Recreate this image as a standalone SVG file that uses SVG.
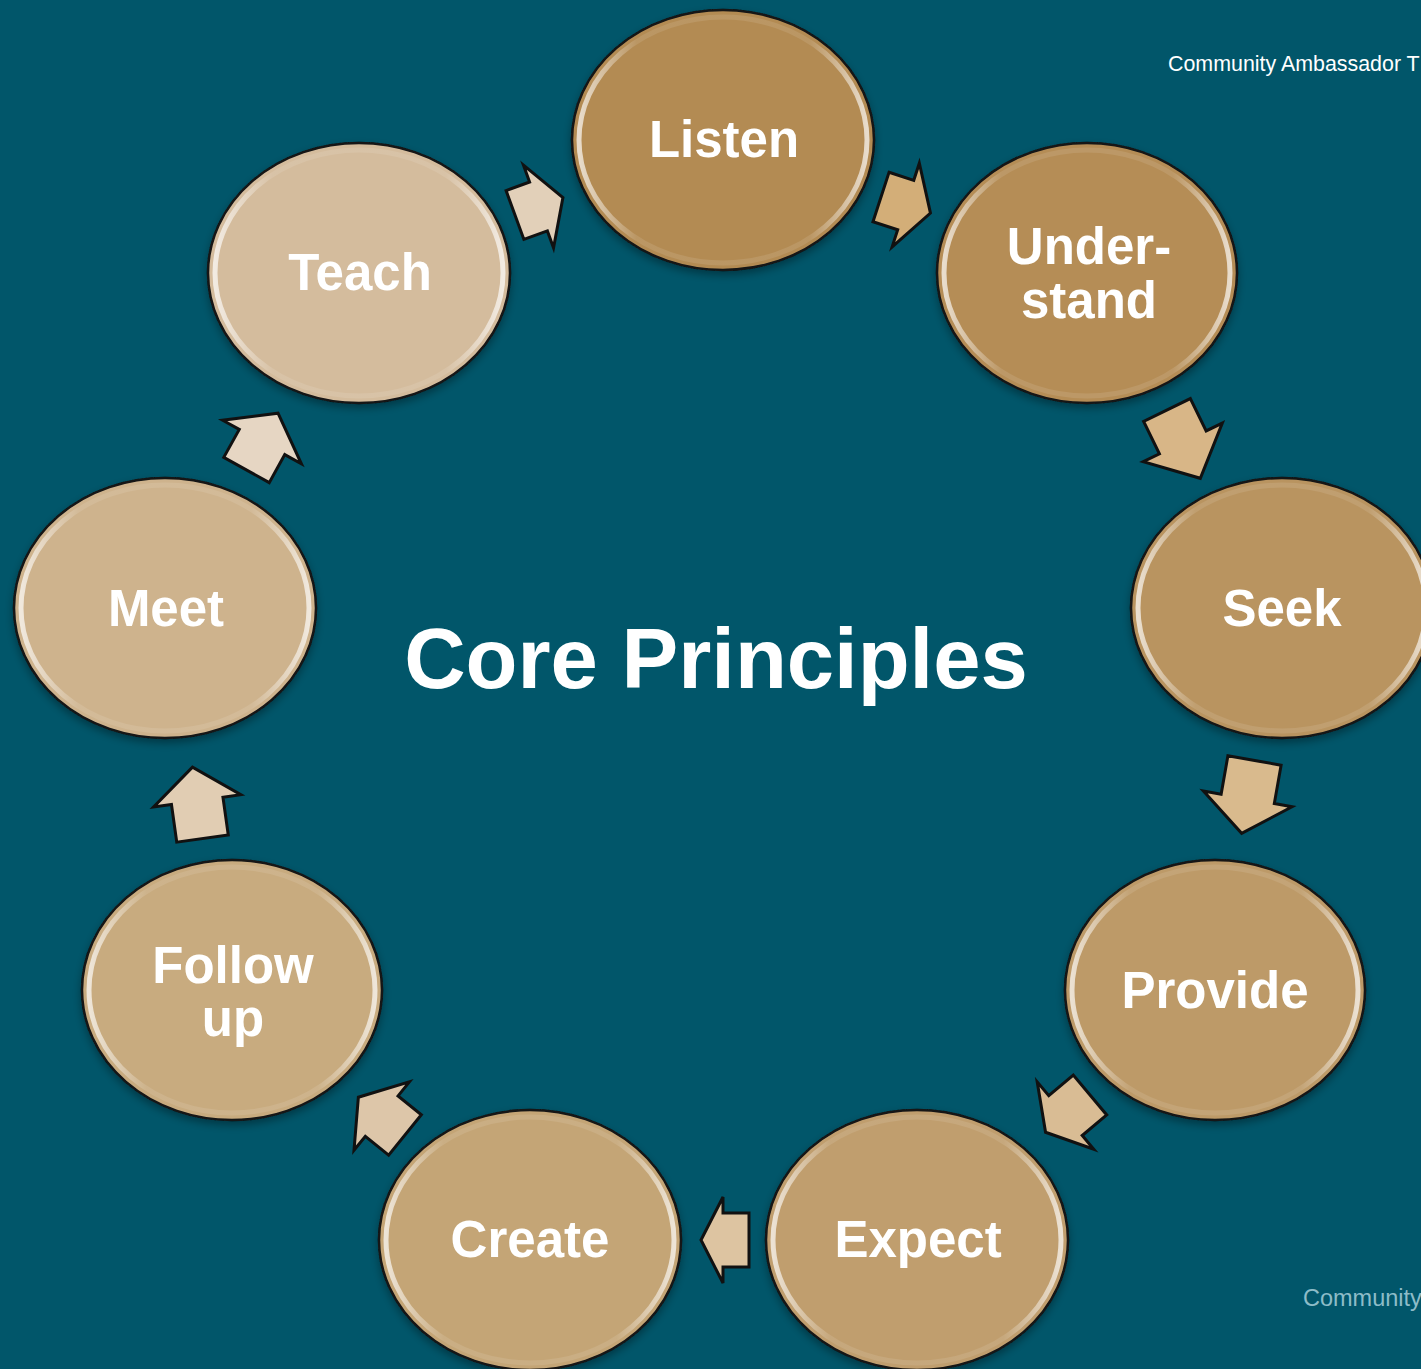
<svg xmlns="http://www.w3.org/2000/svg" width="1421" height="1369" viewBox="0 0 1421 1369">
<defs>
<style>
.lbl{font-family:"Liberation Sans",Arial,sans-serif;font-weight:700;font-size:51px;fill:#ffffff;text-anchor:middle}
.rim{fill:none;stroke:url(#rimg);stroke-width:5}
.node ellipse.body{stroke:#141414;stroke-width:2.5}
.arr{stroke:#111;stroke-width:3;stroke-linejoin:miter}
</style>
<linearGradient id="rimg" x1="0" y1="0" x2="1" y2="0">
<stop offset="0" stop-color="#fff" stop-opacity="0.7"/>
<stop offset="0.2" stop-color="#fff" stop-opacity="0.1"/>
<stop offset="0.8" stop-color="#fff" stop-opacity="0.1"/>
<stop offset="1" stop-color="#fff" stop-opacity="0.7"/>
</linearGradient>
<filter id="sh" x="-10%" y="-10%" width="120%" height="125%">
<feDropShadow dx="0" dy="4" stdDeviation="4" flood-color="#000" flood-opacity="0.35"/>
</filter>
</defs>
<rect width="1421" height="1369" fill="#01566A"/>
<text x="1168" y="71" font-family="'Liberation Sans',Arial,sans-serif" font-size="21.4" fill="#ffffff">Community Ambassador T</text>
<text x="1303" y="1306" font-family="'Liberation Sans',Arial,sans-serif" font-size="23.5" fill="#8DBCC8">Community</text>
<text x="716" y="688" text-anchor="middle" font-family="'Liberation Sans',Arial,sans-serif" font-weight="700" font-size="85" fill="#ffffff">Core Principles</text>

<g id="connectors">
<path class="arr" fill="#E2D0B9" transform="translate(515,215) rotate(-20)" d="M0,-26 H25 V-44 L51,0 L25,44 V26 H0 Z"/>
<path class="arr" fill="#D3AE78" transform="translate(881,197) rotate(18)" d="M0,-26 H26 V-44 L52,0 L26,44 V26 H0 Z"/>
<path class="arr" fill="#D8B687" transform="translate(1167,410) rotate(64)" d="M0,-26 H36 V-44 L76,0 L36,44 V26 H0 Z"/>
<path class="arr" fill="#D9BA8D" transform="translate(1254.5,760.5) rotate(100)" d="M0,-27 H39 V-45 L74,0 L39,45 V27 H0 Z"/>
<path class="arr" fill="#D9BC94" transform="translate(1090,1095) rotate(140)" d="M0,-26 H32 V-44 L58,0 L32,44 V26 H0 Z"/>
<path class="arr" fill="#DDC4A1" transform="translate(749,1240) rotate(180)" d="M0,-27 H26 V-43 L48,0 L26,43 V27 H0 Z"/>
<path class="arr" fill="#DDC6A9" transform="translate(405,1135) rotate(219)" d="M0,-26 H30 V-44 L60,0 L30,44 V26 H0 Z"/>
<path class="arr" fill="#E1CDB3" transform="translate(202.5,838.5) rotate(-98)" d="M0,-26 H38 V-44 L72,0 L38,44 V26 H0 Z"/>
<path class="arr" fill="#E6D6C3" transform="translate(246.5,470) rotate(-61)" d="M0,-26 H32 V-45 L65,0 L32,45 V26 H0 Z"/>
</g>

<g id="node-listen" class="node">
<ellipse class="body" cx="723" cy="140" rx="151" ry="130" fill="#B38B53" filter="url(#sh)"/>
<ellipse class="rim" cx="723" cy="140" rx="144" ry="123"/>
<text class="lbl" x="724" y="157">Listen</text>
</g>
<g id="node-understand" class="node">
<ellipse class="body" cx="1087" cy="273" rx="150" ry="130" fill="#B58D57" filter="url(#sh)"/>
<ellipse class="rim" cx="1087" cy="273" rx="143" ry="123"/>
<text class="lbl" x="1089" y="264">Under-</text>
<text class="lbl" x="1089" y="318">stand</text>
</g>
<g id="node-seek" class="node">
<ellipse class="body" cx="1282" cy="608" rx="151" ry="130" fill="#B99460" filter="url(#sh)"/>
<ellipse class="rim" cx="1282" cy="608" rx="144" ry="123"/>
<text class="lbl" x="1282" y="626">Seek</text>
</g>
<g id="node-provide" class="node">
<ellipse class="body" cx="1215" cy="990" rx="150" ry="130" fill="#BD9A68" filter="url(#sh)"/>
<ellipse class="rim" cx="1215" cy="990" rx="143" ry="123"/>
<text class="lbl" x="1215" y="1008">Provide</text>
</g>
<g id="node-expect" class="node">
<ellipse class="body" cx="917" cy="1240" rx="151" ry="130" fill="#C09E6E" filter="url(#sh)"/>
<ellipse class="rim" cx="917" cy="1240" rx="144" ry="123"/>
<text class="lbl" x="918" y="1257">Expect</text>
</g>
<g id="node-create" class="node">
<ellipse class="body" cx="530" cy="1240" rx="151" ry="130" fill="#C4A576" filter="url(#sh)"/>
<ellipse class="rim" cx="530" cy="1240" rx="144" ry="123"/>
<text class="lbl" x="530" y="1257">Create</text>
</g>
<g id="node-followup" class="node">
<ellipse class="body" cx="232" cy="990" rx="150" ry="130" fill="#C8AB7F" filter="url(#sh)"/>
<ellipse class="rim" cx="232" cy="990" rx="143" ry="123"/>
<text class="lbl" x="233" y="983">Follow</text>
<text class="lbl" x="233" y="1036">up</text>
</g>
<g id="node-meet" class="node">
<ellipse class="body" cx="165" cy="608" rx="151" ry="130" fill="#CEB38D" filter="url(#sh)"/>
<ellipse class="rim" cx="165" cy="608" rx="144" ry="123"/>
<text class="lbl" x="166" y="626">Meet</text>
</g>
<g id="node-teach" class="node">
<ellipse class="body" cx="359" cy="273" rx="151" ry="130" fill="#D4BC9D" filter="url(#sh)"/>
<ellipse class="rim" cx="359" cy="273" rx="144" ry="123"/>
<text class="lbl" x="360" y="290">Teach</text>
</g>
</svg>
